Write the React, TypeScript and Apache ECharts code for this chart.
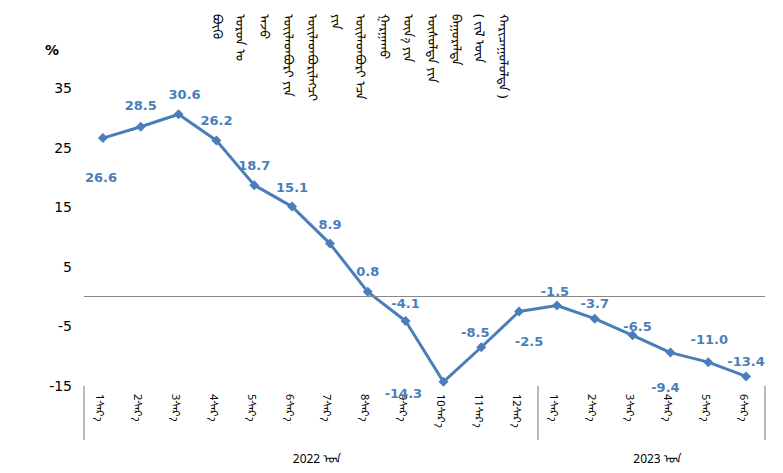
import React, { useEffect, useRef } from "react";
import * as echarts from "echarts";

const months = [
  "1ᠰᠠᠷ᠎ᠠ", "2ᠰᠠᠷ᠎ᠠ", "3ᠰᠠᠷ᠎ᠠ", "4ᠰᠠᠷ᠎ᠠ", "5ᠰᠠᠷ᠎ᠠ", "6ᠰᠠᠷ᠎ᠠ",
  "7ᠰᠠᠷ᠎ᠠ", "8ᠰᠠᠷ᠎ᠠ", "9ᠰᠠᠷ᠎ᠠ", "10ᠰᠠᠷ᠎ᠠ", "11ᠰᠠᠷ᠎ᠠ", "12ᠰᠠᠷ᠎ᠠ",
  "1ᠰᠠᠷ᠎ᠠ", "2ᠰᠠᠷ᠎ᠠ", "3ᠰᠠᠷ᠎ᠠ", "4ᠰᠠᠷ᠎ᠠ", "5ᠰᠠᠷ᠎ᠠ", "6ᠰᠠᠷ᠎ᠠ",
];
const values = [26.6, 28.5, 30.6, 26.2, 18.7, 15.1, 8.9, 0.8, -4.1, -14.3, -8.5, -2.5, -1.5, -3.7, -6.5, -9.4, -11.0, -13.4];
const years = ["2022 ᠣᠨ", "2023 ᠣᠨ"];
const yearCounts = [12, 6];
const titleWords = [
  "ᠪᠦᠬᠦ", "ᠣᠷᠤᠨ ᠤ", "ᠠᠵᠤ", "ᠦᠢᠯᠡᠳᠪᠦᠷᠢ ᠶᠢᠨ", "ᠦᠢᠯᠡᠳᠪᠦᠷᠢᠯᠡᠭᠴᠢ", "ᠶᠢᠨ",
  "ᠦᠢᠯᠡᠳᠪᠦᠷᠢ ᠡᠴᠡ", "ᠭᠠᠷᠭᠠᠬᠤ", "ᠦᠨ᠎ᠡ ᠶᠢᠨ", "ᠥᠰᠦᠯᠲᠡ ᠶᠢᠨ", "ᠪᠠᠭᠤᠷᠠᠯᠲᠠ",
  "( ᠵᠢᠯ ᠦᠨ", "ᠬᠠᠷᠢᠴᠠᠭᠤᠯᠤᠯᠲᠠ )",
];
const yMin = -15;
const yMax = 35;
const yStep = 10;

// label placement (style only): offset of each value label from its point
const labelOffsets = [
  [-2, 39], [0, -21], [6, -20], [0, -20], [0, -20], [0, -19], [0, -19], [0, -20], [0, -18],
  [-40, 12], [-6, -15], [10, 30], [-2, -14], [0, -15], [5, -9], [-5, 35], [1, -23], [0, -15],
];

const BLUE = "#4a7ebb";
const FONT = "'DejaVu Sans', 'Noto Sans', sans-serif";
const MONGOL_FONT = "'Noto Sans Mongolian', 'Mongolian Baiti', 'DejaVu Sans', sans-serif";

export default function App() {
  const ref = useRef<HTMLDivElement>(null);
  useEffect(() => {
    document.body.style.margin = "0";
    if (!ref.current) return;
    const chart = echarts.init(ref.current, null, { renderer: "svg" });
    const gridLeft = 84, gridRight = 18, gridTop = 88, gridBottom = 87;
    const option: any = {
      animation: false,
      grid: { left: gridLeft, right: gridRight, top: gridTop, bottom: gridBottom },
      xAxis: {
        type: "category",
        data: months,
        boundaryGap: true,
        axisLine: { show: true, lineStyle: { color: "#f0ecd8", type: "dotted", width: 1 } },
        axisTick: { show: false },
        axisLabel: {
          rotate: -90,
          margin: 8,
          fontSize: 11,
          color: "#000",
          fontFamily: MONGOL_FONT,
          interval: 0,
        },
      },
      yAxis: {
        type: "value",
        min: yMin,
        max: yMax,
        interval: yStep,
        axisLine: { show: false },
        axisTick: { show: false },
        splitLine: { show: false },
        axisLabel: { color: "#000", fontSize: 14, fontFamily: FONT, margin: 12 },
      },
      series: [
        {
          type: "line",
          data: values.map((v, i) => ({
            value: v,
            label: { offset: labelOffsets[i] },
          })),
          symbol: "diamond",
          symbolSize: 10,
          lineStyle: { color: BLUE, width: 3 },
          itemStyle: { color: BLUE },
          label: {
            show: true,
            position: "inside",
            color: BLUE,
            fontWeight: "bold",
            fontSize: 13,
            fontFamily: FONT,
            formatter: (p: any) => Number(p.value).toFixed(1),
          },
          markLine: {
            silent: true,
            symbol: "none",
            label: { show: false },
            lineStyle: { color: "#888", type: "solid", width: 1 },
            data: [{ yAxis: 0 }],
          },
        },
      ],
    };
    chart.setOption(option);

    const plotBottom = 473 - gridBottom;
    const band = (783 - gridLeft - gridRight) / months.length;
    const graphics: any[] = [];
    graphics.push({
      type: "text", x: 52, y: 50,
      style: { text: "%", font: `bold 14px ${FONT}`, fill: "#000", align: "center", verticalAlign: "middle" },
    });
    titleWords.forEach((w, i) => {
      graphics.push({
        type: "text",
        x: 220 + i * 23.9,
        y: 14,
        rotation: -Math.PI / 2,
        style: { text: w, font: `13px ${MONGOL_FONT}`, fill: "#000", align: "left", verticalAlign: "middle" },
      });
    });
    let start = 0;
    const boundaries: number[] = [0];
    yearCounts.forEach((c) => { start += c; boundaries.push(start); });
    boundaries.forEach((b) => {
      const px = b < months.length
        ? chart.convertToPixel({ xAxisIndex: 0 }, b) - band / 2
        : chart.convertToPixel({ xAxisIndex: 0 }, months.length - 1) + band / 2;
      graphics.push({
        type: "line",
        shape: { x1: px, y1: plotBottom, x2: px, y2: plotBottom + 54 },
        style: { stroke: "#777", lineWidth: 1 },
      });
    });
    years.forEach((y, i) => {
      const a = chart.convertToPixel({ xAxisIndex: 0 }, boundaries[i]) - band / 2;
      const b = chart.convertToPixel({ xAxisIndex: 0 }, boundaries[i + 1] - 1) + band / 2;
      graphics.push({
        type: "text",
        x: (a + b) / 2 + 6,
        y: 456,
        style: { text: y, font: `12px ${MONGOL_FONT}`, fill: "#000", align: "center", verticalAlign: "middle" },
      });
    });
    chart.setOption({ graphic: graphics });
    return () => chart.dispose();
  }, []);
  return <div ref={ref} style={{ width: 783, height: 473 }} />;
}
